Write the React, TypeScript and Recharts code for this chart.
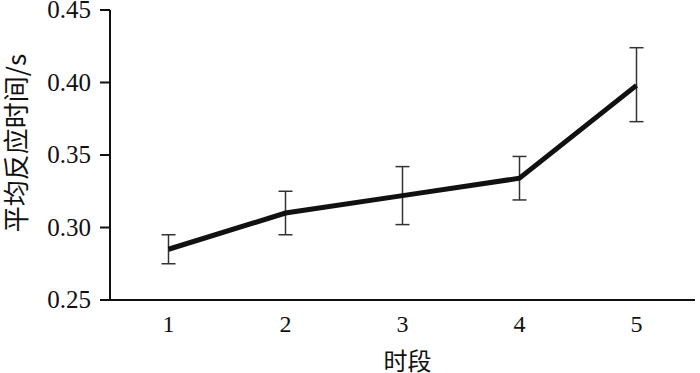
import React from "react"
import { LineChart, Line, XAxis, YAxis, ErrorBar } from "recharts"

const periods = ["1", "2", "3", "4", "5"]
const meanTimes = [0.285, 0.31, 0.322, 0.334, 0.398]
const lowerBounds = [0.275, 0.295, 0.302, 0.319, 0.373]
const upperBounds = [0.295, 0.325, 0.342, 0.349, 0.424]
const yTicks = [0.25, 0.3, 0.35, 0.4, 0.45]

const data = periods.map((p, i) => ({
  period: p,
  mean: meanTimes[i],
  err: [meanTimes[i] - lowerBounds[i], upperBounds[i] - meanTimes[i]],
}))

const serif = "Liberation Serif"
const cjk = "Noto Sans CJK SC"

const XTick = (props: any) => (
  <text x={props.x} y={props.y} dy={17} textAnchor="middle" fill="#111" fontSize={24} fontFamily={serif}>
    {props.payload.value}
  </text>
)

const YTick = (props: any) => (
  <text x={props.x} y={props.y} dy={8} textAnchor="end" fill="#111" fontSize={25} fontFamily={serif}>
    {Number(props.payload.value).toFixed(2)}
  </text>
)

export default function App() {
  return (
    <div style={{ position: "absolute", left: 0, top: 0, background: "#fff" }}>
      <LineChart width={700} height={373} data={data} margin={{ top: 10, right: 5, bottom: 0, left: 0 }}>
        <XAxis
          dataKey="period"
          height={73}
          padding={{ left: 58.5, right: 58.5 }}
          axisLine={{ stroke: "#111", strokeWidth: 2 }}
          tickLine={false}
          tickSize={0}
          tickMargin={15}
          tick={XTick}
          label={{ value: "时段", position: "insideBottom", offset: 3, dx: 5, fill: "#111", fontSize: 24, fontFamily: cjk }}
        />
        <YAxis
          width={110}
          domain={[0.25, 0.45]}
          ticks={yTicks}
          interval={0}
          axisLine={{ stroke: "#111", strokeWidth: 2 }}
          tickLine={{ stroke: "#111", strokeWidth: 2 }}
          tickSize={10}
          tickMargin={9}
          tick={YTick}
          label={{
            content: () => (
              <text
                x={14}
                y={143}
                transform="rotate(-90 14 143)"
                textAnchor="middle"
                dominantBaseline="central"
                fill="#111"
                fontSize={26}
                fontFamily={cjk}
              >
                平均反应时间/s
              </text>
            ),
          }}
        />
        <Line
          type="linear"
          dataKey="mean"
          stroke="#111"
          strokeWidth={5}
          dot={false}
          isAnimationActive={false}
        >
          <ErrorBar dataKey="err" direction="y" width={7} stroke="#333" strokeWidth={1.5} isAnimationActive={false} />
        </Line>
      </LineChart>
    </div>
  )
}
